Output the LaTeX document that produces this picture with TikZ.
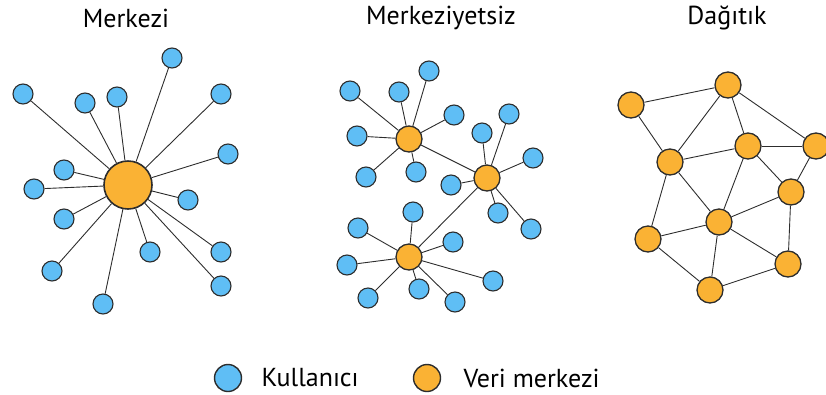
\documentclass[tikz,border=0pt]{standalone}
\usepackage{fontspec}
\setmainfont{PT Sans}
\definecolor{userblue}{RGB}{95,190,245}
\definecolor{hubor}{RGB}{250,178,52}
\definecolor{rim}{RGB}{45,45,45}
\begin{document}
\begin{tikzpicture}[x=1pt,y=-1pt,
  user/.style={circle,draw=rim,line width=1.1pt,fill=userblue,inner sep=0pt,minimum size=20pt},
  hub/.style={circle,draw=rim,line width=1.3pt,fill=hubor,inner sep=0pt,minimum size=26pt},
  bighub/.style={hub,line width=1.6pt,minimum size=48pt},
  link/.style={rim,line width=0.9pt},
  title/.style={font=\fontsize{26}{30}\selectfont}]
  \useasboundingbox (0,0) rectangle (826,394);

  \node[title] (t1) at (126,18) {Merkezi};
  \node[title] (t2) at (441,18) {Merkeziyetsiz};
  \node[title] (t3) at (727,18) {Dağıtık};

  % Merkezi
  \node[bighub] (c) at (128,185) {};
  \node[user] (c1) at (172,58) {};
  \node[user] (c2) at (23,94) {};
  \node[user] (c3) at (85,103) {};
  \node[user] (c4) at (117,97) {};
  \node[user] (c5) at (221,94) {};
  \node[user] (c6) at (228,154) {};
  \node[user] (c7) at (64,170) {};
  \node[user] (c8) at (34,189) {};
  \node[user] (c9) at (188,200) {};
  \node[user] (c10) at (64,219) {};
  \node[user] (c11) at (150,252) {};
  \node[user] (c12) at (221,252) {};
  \node[user] (c13) at (52,271) {};
  \node[user] (c14) at (221,286) {};
  \node[user] (c15) at (103,304) {};
  \foreach \i in {1,...,15} \draw[link] (c) -- (c\i);

  % Merkeziyetsiz
  \node[hub] (a) at (409,139) {};
  \node[hub] (b) at (487,178) {};
  \node[hub] (d) at (409,257) {};
  \draw[link] (a) -- (b);
  \draw[link] (b) -- (d);
  \node[user] (a1) at (350,91) {};
  \node[user] (a2) at (399,92) {};
  \node[user] (a3) at (429,71) {};
  \node[user] (a4) at (454,115) {};
  \node[user] (a5) at (357,136) {};
  \node[user] (a6) at (366,177) {};
  \node[user] (a7) at (416,172) {};
  \foreach \i in {1,...,7} \draw[link] (a) -- (a\i);
  \node[user] (b1) at (482,133) {};
  \node[user] (b2) at (509,114) {};
  \node[user] (b3) at (533,158) {};
  \node[user] (b4) at (451,185) {};
  \node[user] (b5) at (498,213) {};
  \node[user] (b6) at (531,229) {};
  \foreach \i in {1,...,6} \draw[link] (b) -- (b\i);
  \node[user] (d1) at (413,212) {};
  \node[user] (d2) at (358,228) {};
  \node[user] (d3) at (453,242) {};
  \node[user] (d4) at (347,265) {};
  \node[user] (d5) at (493,281) {};
  \node[user] (d6) at (419,289) {};
  \node[user] (d7) at (368,298) {};
  \node[user] (d8) at (455,302) {};
  \foreach \i in {1,...,8} \draw[link] (d) -- (d\i);

  % Dagitik
  \node[hub] (n1) at (728,85) {};
  \node[hub] (n2) at (631,105) {};
  \node[hub] (n3) at (748,146) {};
  \node[hub] (n4) at (816,146) {};
  \node[hub] (n5) at (670,162) {};
  \node[hub] (n6) at (791,192) {};
  \node[hub] (n7) at (719,222) {};
  \node[hub] (n8) at (648,239) {};
  \node[hub] (n9) at (788,264) {};
  \node[hub] (n10) at (710,290) {};
  \foreach \p/\q in {n2/n1,n2/n5,n1/n5,n1/n3,n1/n4,n5/n3,n3/n4,n4/n6,n3/n6,n3/n7,
    n5/n7,n5/n8,n6/n7,n7/n8,n7/n9,n7/n10,n8/n10,n10/n9,n6/n9}
    \draw[link] (\p) -- (\q);

  % legend
  \node[user,line width=1.4pt,minimum size=27pt] (k) at (228,378) {};
  \node[title,anchor=west] (kt) at (258,378) {Kullanıcı};
  \node[hub,line width=1.4pt,minimum size=27pt] (v) at (427,378) {};
  \node[title,anchor=west] (vt) at (460,378) {Veri merkezi};
\end{tikzpicture}
\end{document}
